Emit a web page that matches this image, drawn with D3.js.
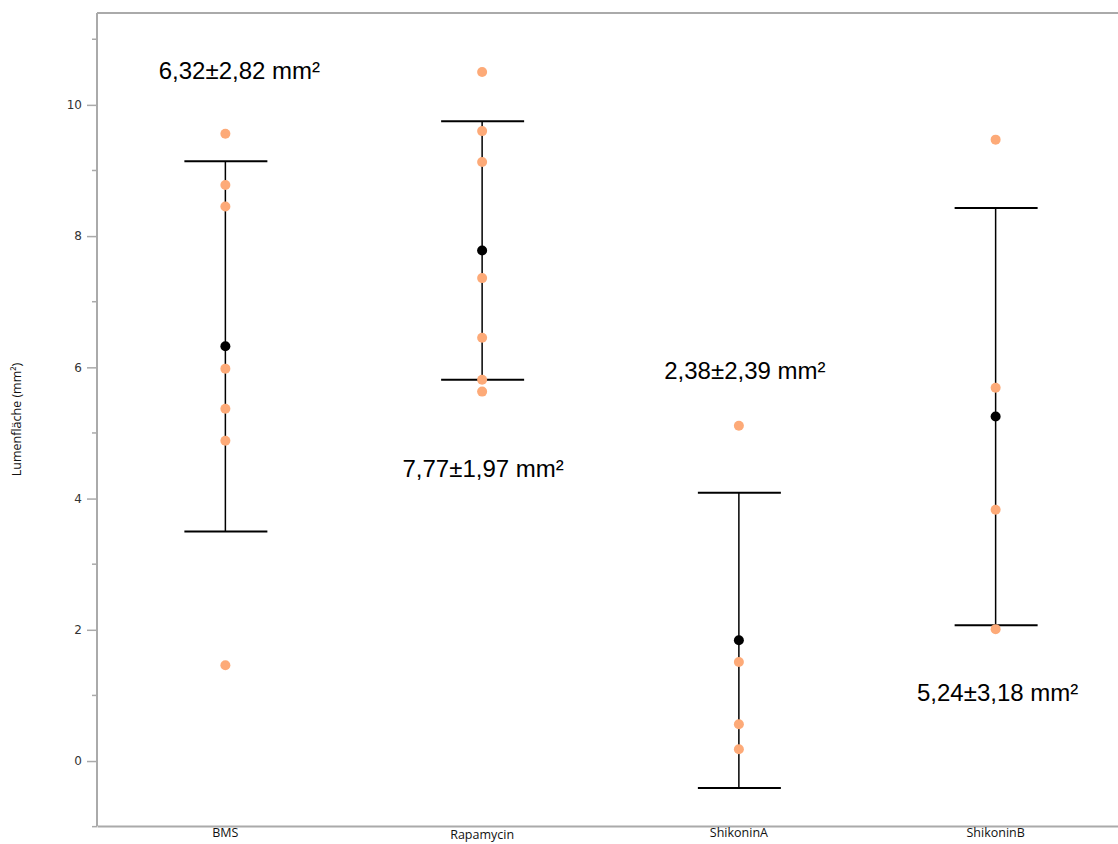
<!DOCTYPE html>
<html lang="en">

<head>
    <meta charset="UTF-8">
    <title>Lumenfläche</title>
    <style>
        body {
            margin: 0;
            padding: 0;
            background: #fff;
        }

        svg {
            display: block;
        }
    </style>
</head>

<body>

    <svg width="1118" height="844"></svg>

    <script src="https://d3js.org/d3.v7.min.js"></script>
    <script>
        // Data
        const groups = ["BMS", "Rapamycin", "ShikoninA", "ShikoninB"];
        const bmsValues = [9.56, 8.78, 8.45, 5.98, 5.37, 4.88, 1.46];
        const rapamycinValues = [10.5, 9.6, 9.13, 7.36, 6.45, 5.81, 5.63];
        const shikoninAValues = [5.11, 1.51, 0.56, 0.18];
        const shikoninBValues = [9.47, 5.69, 3.83, 2.01];
        const means = [6.32, 7.78, 1.84, 5.25];
        const sds = [2.82, 1.97, 2.25, 3.18];
        const labels = ["6,32±2,82 mm²", "7,77±1,97 mm²", "2,38±2,39 mm²", "5,24±3,18 mm²"];
        const labelValues = [10.4, 4.33, 5.82, 0.91]; // label baselines on the y scale
        const yTicks = [0, 2, 4, 6, 8, 10];
        const yMinorTicks = [-1, 1, 3, 5, 7, 9, 11];

        const values = [bmsValues, rapamycinValues, shikoninAValues, shikoninBValues];
        const labelShift = [14, 1, 6, 2]; // labels are not quite centred on their group

        const svg = d3.select("svg");
        const mLeft = 97, mTop = 13, mBottom = 826, mRight = 1124;

        const x = d3.scaleBand().domain(groups).range([mLeft, mRight]);
        const y = d3.scaleLinear().domain([-0.99, 11.4]).range([mBottom, mTop]);
        const cx = g => x(g) + x.bandwidth() / 2;

        // frame: top line and axes
        svg.append("line")
            .attr("x1", mLeft).attr("x2", 1118)
            .attr("y1", mTop).attr("y2", mTop)
            .attr("stroke", "#aaa").attr("stroke-width", 2);

        const yAxis = svg.append("g")
            .attr("transform", `translate(${mLeft},0)`)
            .call(d3.axisLeft(y).tickValues(yTicks).tickSize(10).tickPadding(5).tickSizeOuter(0));
        yAxis.select(".domain").attr("stroke", "#aaa").attr("stroke-width", 2)
            .attr("d", `M0,${mTop}V${mBottom}`);
        yAxis.selectAll(".tick line").attr("stroke", "#aaa").attr("stroke-width", 1.5);
        yAxis.selectAll(".tick text")
            .attr("font-family", "DejaVu Sans, sans-serif")
            .attr("font-size", 12)
            .attr("fill", "#333");

        svg.append("g")
            .selectAll("line")
            .data(yMinorTicks)
            .join("line")
            .attr("x1", mLeft - 5).attr("x2", mLeft)
            .attr("y1", d => y(d)).attr("y2", d => y(d))
            .attr("stroke", "#aaa").attr("stroke-width", 1.5);

        const xAxis = svg.append("g")
            .attr("transform", `translate(0,${mBottom})`)
            .call(d3.axisBottom(x).tickSize(0).tickPadding(3).tickSizeOuter(0));
        xAxis.select(".domain").attr("stroke", "#aaa").attr("stroke-width", 2);
        xAxis.selectAll(".tick text")
            .attr("font-family", "Open Sans, sans-serif")
            .attr("font-size", 12.5)
            .attr("fill", "#111")
            .attr("dy", (d, i) => i === 1 ? "0.78em" : "0.66em");

        // y axis title
        svg.append("text")
            .attr("transform", `translate(21,${(mTop + mBottom) / 2}) rotate(-90)`)
            .attr("text-anchor", "middle")
            .attr("font-family", "Open Sans, sans-serif")
            .attr("font-size", 12.5)
            .attr("fill", "#111")
            .text("Lumenfläche (mm²)");

        // error bars
        const bars = svg.append("g")
            .selectAll("g")
            .data(groups)
            .join("g");

        bars.append("line")
            .attr("x1", g => cx(g)).attr("x2", g => cx(g))
            .attr("y1", (g, i) => y(means[i] + sds[i]))
            .attr("y2", (g, i) => y(means[i] - sds[i]))
            .attr("stroke", "#000").attr("stroke-width", 1.5);

        bars.selectAll(".cap")
            .data((g, i) => [means[i] + sds[i], means[i] - sds[i]].map(v => ({ g, v })))
            .join("line")
            .attr("class", "cap")
            .attr("x1", d => cx(d.g) - 41).attr("x2", d => cx(d.g) + 42)
            .attr("y1", d => y(d.v)).attr("y2", d => y(d.v))
            .attr("stroke", "#000").attr("stroke-width", 2);

        // raw points
        svg.append("g")
            .selectAll("circle")
            .data(groups.flatMap((g, i) => values[i].map(v => ({ g, v }))))
            .join("circle")
            .attr("cx", d => cx(d.g))
            .attr("cy", d => y(d.v))
            .attr("r", 5)
            .attr("fill", "#fdaa78");

        // means
        svg.append("g")
            .selectAll("circle")
            .data(groups)
            .join("circle")
            .attr("cx", g => cx(g))
            .attr("cy", (g, i) => y(means[i]))
            .attr("r", 5)
            .attr("fill", "#000");

        // labels
        svg.append("g")
            .selectAll("text")
            .data(groups)
            .join("text")
            .attr("x", (g, i) => cx(g) + labelShift[i])
            .attr("y", (g, i) => y(labelValues[i]))
            .attr("text-anchor", "middle")
            .attr("font-family", "Liberation Sans, Arial, sans-serif")
            .attr("font-size", 24)
            .attr("fill", "#000")
            .text((g, i) => labels[i]);
    </script>

</body>

</html>
